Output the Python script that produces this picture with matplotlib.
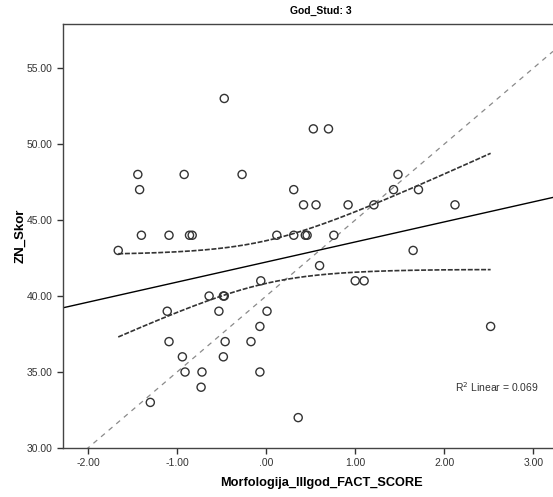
import numpy as np
import matplotlib.pyplot as plt

plt.rcParams['font.family'] = ['Liberation Sans', 'DejaVu Sans']

# data
fact_score = [-0.47, 0.53, 0.70, -1.44, -0.92, -0.27, 1.48, -1.42, 0.31, 1.43,
              1.71, 0.42, 0.56, 0.92, 1.21, 2.12, -1.40, -1.09, -0.86, -0.83,
              0.12, 0.31, 0.44, 0.46, 0.76, -1.66, 1.65, 0.60, -0.06, 1.00,
              1.10, 2.52, -0.64, -0.48, -0.47, -1.11, -0.53, 0.01, -0.07, -1.09,
              -0.46, -0.17, -0.94, -0.48, -0.91, -0.72, -0.07, -0.73, -1.30, 0.36]
zn_skor = [53, 51, 51, 48, 48, 48, 48, 47, 47, 47,
           47, 46, 46, 46, 46, 46, 44, 44, 44, 44,
           44, 44, 44, 44, 44, 43, 43, 42, 41, 41,
           41, 38, 40, 40, 40, 39, 39, 39, 38, 37,
           37, 37, 36, 36, 35, 35, 35, 34, 33, 32]
xticks = [-2, -1, 0, 1, 2, 3]
xticklabels = ['-2.00', '-1.00', '.00', '1.00', '2.00', '3.00']
yticks = [30, 35, 40, 45, 50, 55]
yticklabels = ['30.00', '35.00', '40.00', '45.00', '50.00', '55.00']
r2_label = 'R$^2$ Linear = 0.069'
ref_intercept, ref_slope = 40.0, 5.0   # grey dashed reference line

x = np.array(fact_score)
y = np.array(zn_skor)

fig = plt.figure(figsize=(5.53, 4.97), dpi=100)
ax = fig.add_axes([63 / 553, 49 / 497, 1 - 63 / 553, 424 / 497])
xmin, xmax = -2.28, 3.22
ymin, ymax = 30, 57.9

# linear fit + 95% CI of the mean
slope, intercept = np.polyfit(x, y, 1)
n = len(x)
resid = y - (intercept + slope * x)
s = np.sqrt(np.sum(resid ** 2) / (n - 2))
sxx = np.sum((x - x.mean()) ** 2)
t_crit = 2.011
xs = np.linspace(x.min(), x.max(), 200)
fit = intercept + slope * xs
half = t_crit * s * np.sqrt(1 / n + (xs - x.mean()) ** 2 / sxx)

xl = np.array([xmin, xmax])
ax.plot(xl, ref_intercept + ref_slope * xl, color='#8a8a8a', lw=0.9, ls=(0, (4, 4)))
ax.plot(xl, intercept + slope * xl, color='black', lw=1.0)
ax.plot(xs, fit + half, color='#333333', lw=1.2, ls=(0, (3, 1)))
ax.plot(xs, fit - half, color='#333333', lw=1.2, ls=(0, (3, 1)))

ax.scatter(x, y, s=34, facecolors='none', edgecolors='#333333', linewidths=1.0, zorder=3)

ax.set_xlim(xmin, xmax)
ax.set_ylim(ymin, ymax)
ax.set_xticks(xticks)
ax.set_xticklabels(xticklabels)
ax.set_yticks(yticks)
ax.set_yticklabels(yticklabels)
ax.tick_params(direction='out', length=4, width=1, labelsize=7.5, colors='#333333')
ax.spines['right'].set_visible(False)
for sp in ['left', 'bottom', 'top']:
    ax.spines[sp].set_color('#444444')
    ax.spines[sp].set_linewidth(1.0)

ax.set_xlabel('Morfologija_IIIgod_FACT_SCORE', fontsize=9.2, fontweight='bold')
ax.xaxis.set_label_coords((321 - 63) / 490, -0.068)
ax.set_ylabel('ZN_Skor', fontsize=9.5, fontweight='bold')
ax.yaxis.set_label_coords(-0.075, 0.5)
ax.set_title('God_Stud: 3', fontsize=7.5, fontweight='bold', pad=7, x=(321 - 63) / 490)
ax.text(2.12, 34.0, r2_label, fontsize=7.5, color='#333333', va='center')

fig.savefig('out.png', dpi=100)
